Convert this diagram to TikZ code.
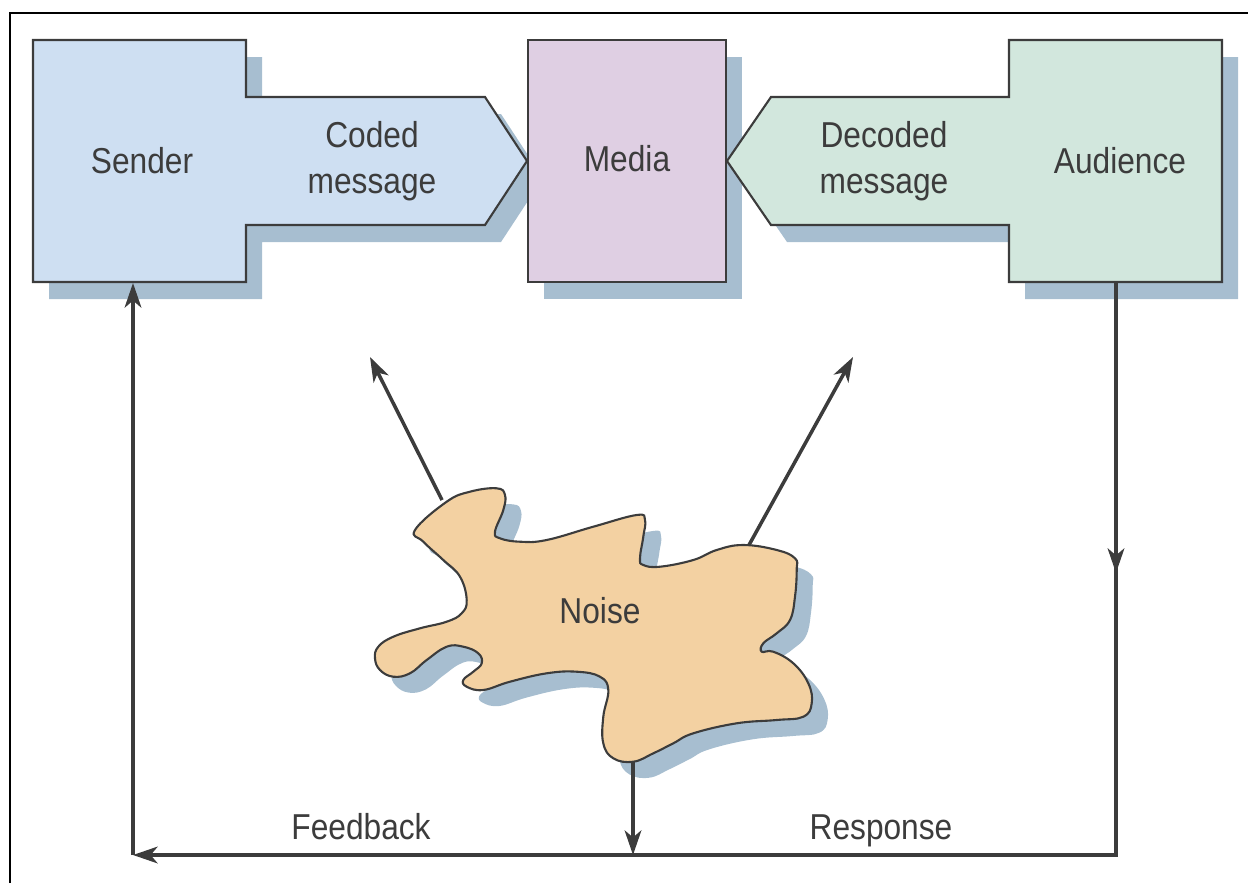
\documentclass[tikz,border=0pt]{standalone}
\usepackage{fontspec}
\setmainfont{Liberation Sans}[FakeStretch=0.88]
\usetikzlibrary{arrows.meta, decorations.markings}
\definecolor{shadowblue}{HTML}{A7BED0}
\definecolor{senderblue}{HTML}{CEDFF2}
\definecolor{medialilac}{HTML}{DFCFE3}
\definecolor{audiencegreen}{HTML}{D2E7DD}
\definecolor{noisetan}{HTML}{F3D1A2}
\definecolor{inkgrey}{HTML}{3C3C3C}

\tikzset{
  shadowpart/.style={fill=shadowblue, draw=none},
  boxpart/.style={draw=inkgrey, line width=1.2pt, line join=miter},
  flow/.style={draw=inkgrey, line width=2pt, -{Stealth[length=14pt, width=9.5pt, inset=4pt]}},
  lbl/.style={text=inkgrey, font=\fontsize{20.5}{26.2}\selectfont, align=center, inner sep=0pt},
  senderpath/.style={insert path={(33,40) -- (246,40) -- (246,97) -- (485,97) -- (527,161)
    -- (485,225) -- (246,225) -- (246,282) -- (33,282) -- cycle}},
  audiencepath/.style={insert path={(1222,40) -- (1009,40) -- (1009,97) -- (771,97) -- (727,161)
    -- (771,225) -- (1009,225) -- (1009,282) -- (1222,282) -- cycle}},
  mediapath/.style={insert path={(528,40) rectangle (726,282)}},
  noisepath/.style={insert path={plot[smooth cycle, tension=0.7] coordinates {
    (415,530) (446.7,501.7) (470,491.7) (496.7,488.3) (505,495) (503.3,510) (495,531.7)
    (500,538.3) (520,541.7) (546.7,540) (593.3,526.7) (636.7,515) (645,520) (643.3,536.7)
    (640,558.3) (643.3,565) (660,566.7) (693.3,560) (716.7,550) (743.3,545) (776.7,550)
    (795,558.3) (796.7,570) (795,596.7) (790,620) (776.7,633.3) (763.3,643.3) (761.7,651.7)
    (773.3,651.7) (793.3,663.3) (808.3,683.3) (811.7,703.3) (803.3,716.7) (776.7,720)
    (736.7,723.3) (693.3,733.3) (673.3,743.3) (653.3,753.3) (633.3,761.7) (613.3,758.3)
    (603.3,743.3) (603.3,716.7) (608.3,690) (600,676.7) (576.7,671.7) (546.7,673.3)
    (510,681.7) (483.3,690) (466.7,686.7) (463.3,680) (473.3,671.7) (481.7,663.3)
    (478.3,653.3) (463.3,646.7) (446.7,646.7) (426.7,660) (410,673.3) (393.3,676.7)
    (380,670) (375,658.3) (378.3,646.7) (393.3,636.7) (420,628.3) (446.7,621.7)
    (461.7,613.3) (466.7,600) (460,576.7) (443.3,560) (423.3,541.7)}}},
  midarrow/.style={postaction={decorate}, decoration={markings,
    mark=at position 0.187 with {\arrow{Stealth[length=14pt, width=9.5pt, inset=4pt]}}}},
}

\begin{document}
\begin{tikzpicture}[x=0.02cm, y=-0.02cm]
\useasboundingbox (0,0) rectangle (1248,883);
%frame
\draw [black, line width=1.6pt] (10,883) -- (10,13) -- (1248,13);

%the shadows
\fill [shadowpart, shift={(16,17)}, senderpath];
\fill [shadowpart, shift={(16,17)}, mediapath];
\fill [shadowpart, shift={(16,17)}, audiencepath];
\fill [shadowpart, shift={(16,16)}, noisepath];

%the shapes
\filldraw [boxpart, fill=senderblue, senderpath];
\filldraw [boxpart, fill=audiencegreen, audiencepath];
\filldraw [boxpart, fill=medialilac, mediapath];
\filldraw [boxpart, fill=noisetan, noisepath];

%the texts
\node [lbl, anchor=base] (sender) at (142,173) {Sender};
\node [lbl] (coded) at (372,161) {Coded\\message};
\node [lbl, anchor=base] (media) at (627,171) {Media};
\node [lbl] (decoded) at (884,161) {Decoded\\message};
\node [lbl, anchor=base] (audience) at (1120,173) {Audience};
\node [lbl, anchor=base] (noise) at (600,623) {Noise};
\node [lbl, anchor=base] (feedback) at (361,839) {Feedback};
\node [lbl, anchor=base] (response) at (881,839) {Response};

%the ends of the arrows
\coordinate (senderfoot) at (133,283);
\coordinate (audiencefoot) at (1116,282);
\coordinate (cornerR) at (1116,855);
\coordinate (cornerL) at (133,855);
\coordinate (noisetopL) at (442,500);
\coordinate (noisetopR) at (749,545);
\coordinate (noisefoot) at (633,761);
\coordinate (noisedrop) at (633,855);
\coordinate (aimcoded) at (370,357);
\coordinate (aimdecoded) at (853,357);

%noise arrows
\draw [flow] (noisetopL) -- (aimcoded);
\draw [flow] (noisetopR) -- (aimdecoded);
\draw [flow] (noisefoot) -- (noisedrop);
%response and feedback
\draw [flow, midarrow] (audiencefoot) -- (cornerR) -- (cornerL);
\draw [flow] (cornerL) -- (senderfoot);
\end{tikzpicture}
\end{document}
